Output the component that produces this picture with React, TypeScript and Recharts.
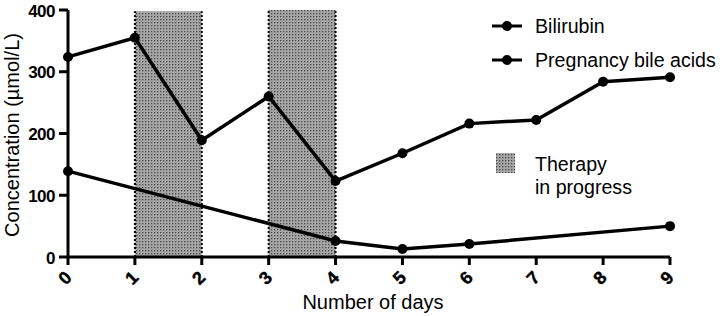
import React from 'react';
import { LineChart, Line, XAxis, YAxis, ReferenceArea, ReferenceLine, Customized } from 'recharts';

const days = [0, 1, 2, 3, 4, 5, 6, 7, 8, 9];
const bileAcids = [324, 355, 189, 260, 123, 168, 216, 222, 284, 291];
const bilirubin: (number | null)[] = [139, null, null, null, 26, 13, 21, null, null, 50];
const yTicks = [0, 100, 200, 300, 400];
const therapyStarts = [1, 3];
const therapyEnds = [2, 4];
const therapyTops = [398, 400];
const seriesNames = ['Bilirubin', 'Pregnancy bile acids'];
const therapyLabel = ['Therapy', 'in progress'];
const xLabel = 'Number of days';
const yLabel = 'Concentration (\u00B5mol/L)';

const data = days.map((d, i) => ({ day: d, bile: bileAcids[i], bili: bilirubin[i] }));

const FONT = '"Liberation Sans", Arial, Helvetica, sans-serif';

const XTick = (props: any) => {
  const { x, y, payload } = props;
  return (
    <text
      transform={`translate(${x - 3},${y + 11}) rotate(-45)`}
      textAnchor="middle"
      dominantBaseline="central"
      fontFamily={FONT}
      fontWeight={700}
      fontSize={18}
      fill="#000"
      stroke="#000"
      strokeWidth={0.4}
    >
      {payload.value}
    </text>
  );
};

const YTick = (props: any) => {
  const { x, y, payload } = props;
  return (
    <text
      x={x}
      y={y + 1}
      textAnchor="end"
      dominantBaseline="central"
      fontFamily={FONT}
      fontWeight={700}
      fontSize={17}
      fill="#000"
      letterSpacing={-0.5}
    >
      {payload.value}
    </text>
  );
};

const Overlay = () => (
  <g fontFamily={FONT} fill="#000">
    <text x={373} y={309} textAnchor="middle" fontSize={20}>{xLabel}</text>
    <text transform="translate(19,135) rotate(-90)" textAnchor="middle" fontSize={20}>{yLabel}</text>
    {seriesNames.map((n, i) => {
      const cy = 26 + i * 34;
      return (
        <g key={n}>
          <line x1={492} x2={522} y1={cy} y2={cy} stroke="#000" strokeWidth={3} />
          <circle cx={507} cy={cy} r={5} fill="#000" />
          <text x={535} y={cy + 7} fontSize={19.6}>{n}</text>
        </g>
      );
    })}
    <rect x={496} y={153} width={19} height={20} fill="url(#dots)" />
    {therapyLabel.map((t, i) => (
      <text key={t} x={535} y={171 + i * 23} fontSize={19.6}>{t}</text>
    ))}
  </g>
);

export default function App() {
  return (
    <div style={{ position: 'absolute', left: 0, top: 0, width: 720, height: 316, background: '#fff' }}>
      <svg width={0} height={0} style={{ position: 'absolute' }}>
        <defs>
          <pattern id="dots" width={3} height={3} patternUnits="userSpaceOnUse">
            <rect width={3} height={3} fill="#a6a6a6" />
            <rect x={1} y={1} width={1.3} height={1.3} fill="#4a4a4a" />
          </pattern>
        </defs>
      </svg>
      <LineChart width={720} height={316} data={data} margin={{ top: 10, right: 50, left: 0, bottom: 0 }}>
        <XAxis
          dataKey="day"
          type="number"
          domain={[0, 9]}
          ticks={days}
          height={59}
          stroke="#000"
          strokeWidth={3}
          axisLine={{ stroke: '#000', strokeWidth: 3 }}
          tickLine={{ stroke: '#000', strokeWidth: 3 }}
          tickSize={8}
          tick={<XTick />}
          interval={0}
        />
        <YAxis
          type="number"
          domain={[0, 400]}
          ticks={yTicks}
          width={68}
          stroke="#000"
          strokeWidth={3}
          axisLine={{ stroke: '#000', strokeWidth: 3 }}
          tickLine={{ stroke: '#000', strokeWidth: 3 }}
          tickSize={9}
          tickMargin={4}
          tick={<YTick />}
          interval={0}
        />
        {therapyStarts.map((s, i) => (
          <ReferenceArea
            key={`a${s}`}
            x1={s}
            x2={therapyEnds[i]}
            y1={0}
            y2={therapyTops[i]}
            fill="url(#dots)"
            fillOpacity={1}
            stroke="none"
            ifOverflow="visible"
          />
        ))}
        {therapyStarts.flatMap((s, i) => [s, therapyEnds[i]].map((xv) => (
          <ReferenceLine
            key={`l${i}-${xv}`}
            segment={[{ x: xv, y: 0 }, { x: xv, y: therapyTops[i] }]}
            stroke="#000"
            strokeWidth={2}
            strokeDasharray="2 2"
            ifOverflow="visible"
          />
        )))}
        <Line
          dataKey="bili"
          name={seriesNames[0]}
          stroke="#000"
          strokeWidth={3.5}
          dot={{ r: 5, fill: '#000', stroke: '#000', strokeWidth: 0 }}
          connectNulls
          isAnimationActive={false}
        />
        <Line
          dataKey="bile"
          name={seriesNames[1]}
          stroke="#000"
          strokeWidth={3.5}
          dot={{ r: 5, fill: '#000', stroke: '#000', strokeWidth: 0 }}
          isAnimationActive={false}
        />
        <Customized component={Overlay} />
      </LineChart>
    </div>
  );
}
